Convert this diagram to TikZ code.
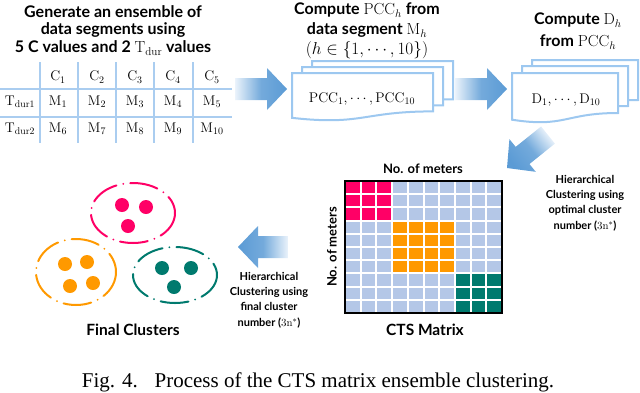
\documentclass[tikz,border=0pt]{standalone}
\usepackage{fontspec}
\setsansfont{Lato}
\newfontfamily\capfont{Liberation Serif}
\usetikzlibrary{calc}
\definecolor{abl}{RGB}{91,155,213}
\definecolor{albl}{RGB}{235,243,251}
\definecolor{docl}{RGB}{157,200,240}
\definecolor{tabl}{RGB}{170,205,240}
\definecolor{mlight}{RGB}{180,199,231}
\definecolor{cpink}{RGB}{255,0,102}
\definecolor{corange}{RGB}{255,153,0}
\definecolor{cteal}{RGB}{0,122,110}
\tikzset{
  ttl/.style={font=\sffamily\bfseries\fontsize{16}{19}\selectfont, inner sep=0pt},
  small/.style={font=\sffamily\bfseries\fontsize{11}{15.4}\selectfont, align=center, inner sep=0pt},
  lbl/.style={font=\sffamily\bfseries\fontsize{15.5}{17}\selectfont, inner sep=0pt},
  tab/.style={font=\fontsize{14}{16}\selectfont, inner sep=0pt},
  docbox/.style={draw=docl, line width=2pt, fill=white},
  tline/.style={draw=tabl, line width=2.5pt},
  clus/.style={line width=2pt, dash pattern=on 28pt off 7pt on 0pt off 7pt, line cap=round},
  rarrow/.style={left color=albl, right color=abl, middle color=abl!85!white},
  larrow/.style={left color=abl, right color=albl, middle color=abl!85!white},
}
\newcommand{\docat}[4]{%
  \pgfmathsetmacro\xr{#1+#3}%
  \pgfmathsetmacro\yb{#2+0.80*#4}%
  \pgfmathsetmacro\ybb{#2+1.1*#4}%
  \pgfmathsetmacro\yl{#2+0.934*#4}%
  \pgfmathsetmacro\xm{#1+0.5*#3}%
  \draw[docbox] (#1,#2) -- (\xr,#2) -- (\xr,\yb) .. controls (\xm,\yb) and (\xm,\ybb) .. (#1,\yl) -- cycle;
}
\newcommand{\blockarrow}[4]{%
  \coordinate (#1s) at #2; \coordinate (#1t) at #3;
  \coordinate (#1b) at ($(#1t)!20pt!(#1s)$);
  \path[#4] ($(#1s)!11pt!90:(#1t)$) -- ($(#1b)!11pt!90:(#1t)$) -- ($(#1b)!21pt!90:(#1t)$) -- (#1t)
    -- ($(#1b)!21pt!-90:(#1t)$) -- ($(#1b)!11pt!-90:(#1t)$) -- ($(#1s)!11pt!-90:(#1t)$) -- cycle;
}
\begin{document}
\begin{tikzpicture}[x=1pt,y=-1pt]
\useasboundingbox (0,0) rectangle (640,392);
% ---- column 1 title
\node[ttl] (t1a) at (113,12) {Generate an ensemble of};
\node[ttl] (t1b) at (113,30) {data segments using};
\node[ttl] (t1c) at (113,48) {5 C values and 2 $\mathrm{T}_{\mathrm{dur}}$ values};
% ---- table
\foreach \x in {40,78,116,154,193} \draw[tline] (\x,62) -- (\x,143);
\foreach \y in {89,117} \draw[tline] (0,\y) -- (232,\y);
\foreach \x/\i in {58/1,97/2,135/3,173/4,212/5} \node[tab] (c\i) at (\x,77) {$\mathrm{C}_{\i}$};
\node[tab] (r1) at (20,102) {$\mathrm{T}_{\mathrm{dur1}}$};
\node[tab] (r2) at (20,129) {$\mathrm{T}_{\mathrm{dur2}}$};
\foreach \x/\i in {58/1,97/2,135/3,173/4,212/5} \node[tab] (m\i) at (\x,102) {$\mathrm{M}_{\i}$};
\foreach \x/\i in {58/6,97/7,135/8,173/9,212/10} \node[tab] (m\i) at (\x,129) {$\mathrm{M}_{\i}$};
% ---- arrow 1
\blockarrow{a1}{(235,89)}{(287,89)}{rarrow}
% ---- docs 1
\docat{312}{61}{141}{48}
\docat{302}{67}{141}{48}
\docat{292}{73}{141}{48}
\node[tab] (pcc) at (362,99) {$\mathrm{PCC}_1,\cdots,\mathrm{PCC}_{10}$};
\node[ttl] (t2a) at (367,10) {Compute $\mathrm{PCC}_h$ from};
\node[ttl] (t2b) at (367,30) {data segment $\mathrm{M}_h$};
\node[ttl] (t2c) at (367,50) {$(h\in\{1,\cdots,10\})$};
% ---- arrow 2
\blockarrow{a2}{(455,89)}{(507,89)}{rarrow}
% ---- docs 2
\docat{532}{60}{106}{50}
\docat{522}{66}{106}{50}
\docat{512}{73}{106}{50}
\node[tab] (dd) at (566,100) {$\mathrm{D}_1,\cdots,\mathrm{D}_{10}$};
\node[ttl] (t3a) at (578,20) {Compute $\mathrm{D}_h$};
\node[ttl] (t3b) at (578,42) {from $\mathrm{PCC}_h$};
% ---- arrow 3 (diagonal)
\blockarrow{a3}{(548,135)}{(507,168)}{top color=albl, bottom color=abl, middle color=abl!85!white, shading angle=-52}
\node[small] (h1) at (585,203) {Hierarchical\\Clustering using\\optimal cluster\\number ($3\mathrm{n}^{*}$)};
% ---- CTS matrix
\foreach \r in {0,...,9}{\foreach \c in {0,...,9}{
  \def\cc{mlight}
  \ifnum\r<3 \ifnum\c<3 \def\cc{cpink}\fi\fi
  \ifnum\r>2 \ifnum\r<7 \ifnum\c>2 \ifnum\c<7 \def\cc{corange}\fi\fi\fi\fi
  \ifnum\r>6 \ifnum\c>6 \def\cc{cteal}\fi\fi
  \fill[\cc] (345+\c*15.7+1, 181+\r*13.2+1) rectangle ++(13.7,11.2);
}}
\draw[line width=1.2pt] (345,181) rectangle (502,313);
\node[font=\sffamily\bfseries\fontsize{13}{15}\selectfont, inner sep=0pt] (nx) at (423,169) {No. of meters};
\node[font=\sffamily\bfseries\fontsize{13}{15}\selectfont, inner sep=0pt, rotate=90] (ny) at (332,247) {No. of meters};
\node[lbl] (cts) at (425,330) {CTS Matrix};
% ---- arrow 4
\blockarrow{a4}{(288,247)}{(238,247)}{larrow}
\node[small] (h2) at (269,300) {Hierarchical\\Clustering using\\final cluster\\number ($3\mathrm{n}^{*}$)};
% ---- clusters
\draw[clus, cpink] (133,213) ellipse [x radius=42, y radius=30];
\foreach \p in {(122,205),(146,207),(128,226)} \fill[cpink] \p circle (7);
\draw[clus, corange] (76,272) ellipse [x radius=40, y radius=33];
\foreach \p in {(65,264),(87,262),(70,286),(93,283)} \fill[corange] \p circle (7);
\draw[clus, cteal] (175,275) ellipse [x radius=42, y radius=28];
\foreach \p in {(162,268),(191,268),(174,287)} \fill[cteal] \p circle (7);
\node[lbl] (fc) at (133,330) {Final Clusters};
% ---- caption
\node[font=\capfont\fontsize{21}{24}\selectfont, inner sep=0pt, anchor=base] (cap) at (318,387) {Fig. 4.\hspace{0.8em}Process of the CTS matrix ensemble clustering.};
\end{tikzpicture}
\end{document}
